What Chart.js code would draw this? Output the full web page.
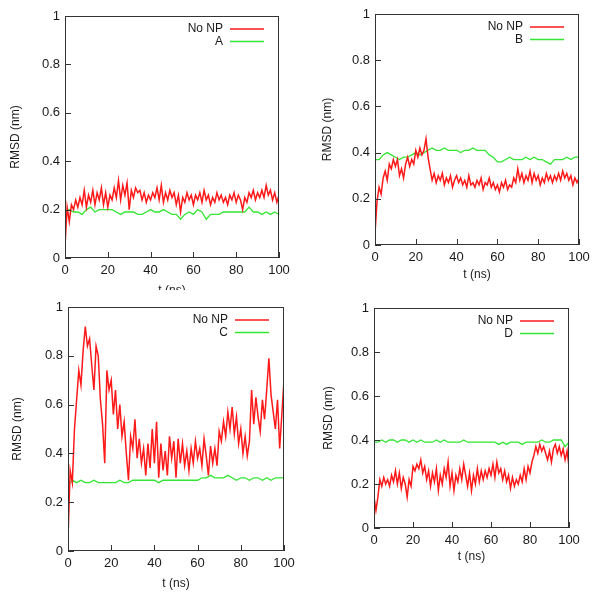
<!DOCTYPE html>
<html>
<head>
<meta charset="utf-8">
<script src="https://cdn.jsdelivr.net/npm/chart.js@4"></script>
<style>
  body { margin: 0; background: #fff; }
  .panel { position: absolute; overflow: hidden; background: #fff; }
  canvas { display: block; }
</style>
</head>
<body>
<div class="panel" style="left:0;top:0;width:300px;height:290px"><canvas id="chartA" width="300" height="300"></canvas></div>
<div class="panel" style="left:310px;top:0;width:291px;height:290px"><canvas id="chartB" width="291" height="290"></canvas></div>
<div class="panel" style="left:3px;top:290px;width:297px;height:310px"><canvas id="chartC" width="297" height="310"></canvas></div>
<div class="panel" style="left:309px;top:290px;width:292px;height:280px"><canvas id="chartD" width="292" height="280"></canvas></div>
<script>
// sampling of the traces (ns between points)
const redStep = 1;
const greenStep = 2;
const xTicks = [0, 20, 40, 60, 80, 100];
const yTicks = [0, 0.2, 0.4, 0.6, 0.8, 1];

// RMSD (nm), No NP trace per panel, one value per ns
const noNpA = [0.05,0.21,0.15,0.22,0.20,0.24,0.21,0.25,0.22,0.28,0.21,0.26,0.23,0.28,0.22,0.27,0.24,0.29,0.22,0.27,
  0.21,0.26,0.24,0.29,0.25,0.32,0.24,0.30,0.26,0.31,0.20,0.28,0.25,0.29,0.27,0.28,0.24,0.27,0.23,0.26,
  0.24,0.27,0.25,0.29,0.24,0.30,0.23,0.27,0.24,0.28,0.25,0.27,0.22,0.26,0.19,0.25,0.23,0.27,0.24,0.26,
  0.22,0.26,0.24,0.27,0.23,0.28,0.24,0.26,0.22,0.25,0.23,0.27,0.24,0.26,0.23,0.25,0.22,0.26,0.24,0.27,
  0.23,0.26,0.24,0.20,0.25,0.23,0.27,0.25,0.28,0.24,0.27,0.25,0.28,0.25,0.30,0.26,0.28,0.24,0.27,0.23,0.26];
const noNpB = [0.05,0.19,0.25,0.22,0.29,0.32,0.28,0.35,0.33,0.37,0.34,0.37,0.30,0.33,0.29,0.35,0.38,0.34,0.37,0.35,
  0.41,0.38,0.42,0.39,0.41,0.46,0.38,0.33,0.28,0.31,0.27,0.30,0.28,0.31,0.26,0.29,0.27,0.30,0.25,0.28,
  0.30,0.27,0.29,0.26,0.28,0.25,0.30,0.26,0.27,0.25,0.28,0.26,0.29,0.24,0.27,0.26,0.29,0.25,0.27,0.24,
  0.26,0.23,0.27,0.25,0.28,0.24,0.26,0.25,0.29,0.27,0.33,0.28,0.31,0.27,0.30,0.28,0.32,0.27,0.31,0.28,
  0.30,0.26,0.29,0.27,0.31,0.28,0.30,0.27,0.30,0.28,0.31,0.28,0.32,0.29,0.31,0.28,0.30,0.26,0.29,0.27,0.29];
const noNpC = [0.05,0.33,0.28,0.50,0.62,0.74,0.68,0.82,0.92,0.84,0.87,0.76,0.66,0.84,0.80,0.62,0.52,0.36,0.74,0.66,
  0.70,0.56,0.66,0.50,0.60,0.47,0.53,0.40,0.29,0.47,0.42,0.54,0.38,0.46,0.36,0.42,0.31,0.44,0.34,0.50,
  0.36,0.53,0.30,0.44,0.33,0.41,0.31,0.47,0.38,0.45,0.30,0.46,0.36,0.44,0.35,0.41,0.33,0.42,0.36,0.45,
  0.38,0.42,0.35,0.46,0.39,0.31,0.43,0.36,0.42,0.35,0.49,0.45,0.53,0.47,0.57,0.50,0.59,0.48,0.55,0.44,
  0.50,0.40,0.47,0.39,0.45,0.66,0.52,0.63,0.55,0.49,0.62,0.54,0.66,0.79,0.64,0.57,0.50,0.62,0.42,0.56,0.70];
const noNpD = [0.14,0.08,0.14,0.22,0.19,0.23,0.20,0.22,0.19,0.24,0.21,0.26,0.20,0.25,0.18,0.23,0.20,0.14,0.22,0.19,
  0.28,0.26,0.29,0.27,0.31,0.25,0.28,0.22,0.26,0.19,0.25,0.21,0.27,0.17,0.24,0.20,0.27,0.23,0.30,0.19,
  0.25,0.17,0.24,0.21,0.27,0.22,0.29,0.24,0.19,0.25,0.17,0.24,0.20,0.27,0.21,0.26,0.22,0.26,0.23,0.27,
  0.24,0.29,0.23,0.30,0.25,0.27,0.22,0.26,0.21,0.24,0.18,0.23,0.19,0.22,0.20,0.24,0.21,0.27,0.22,0.28,
  0.25,0.30,0.33,0.37,0.34,0.38,0.35,0.37,0.34,0.31,0.35,0.30,0.36,0.38,0.34,0.37,0.33,0.36,0.31,0.35,0.28];

// RMSD (nm) with nanoparticle, one value per 2 ns
const withA = [0.19,0.20,0.19,0.19,0.18,0.20,0.21,0.19,0.20,0.20,0.20,0.20,0.19,0.18,0.19,0.19,0.19,0.18,0.18,0.19,
  0.20,0.19,0.19,0.20,0.19,0.18,0.18,0.16,0.18,0.19,0.18,0.20,0.19,0.16,0.18,0.18,0.18,0.19,0.19,0.19,
  0.19,0.19,0.19,0.21,0.19,0.19,0.18,0.19,0.18,0.19,0.18];
const withB = [0.37,0.37,0.39,0.40,0.39,0.38,0.37,0.38,0.38,0.39,0.40,0.39,0.40,0.41,0.42,0.41,0.41,0.42,0.41,0.41,
  0.41,0.40,0.41,0.41,0.42,0.41,0.41,0.41,0.39,0.38,0.36,0.36,0.37,0.38,0.37,0.37,0.37,0.38,0.37,0.38,
  0.37,0.37,0.36,0.35,0.37,0.37,0.37,0.38,0.37,0.38,0.38];
const withC = [0.27,0.29,0.28,0.29,0.28,0.28,0.29,0.28,0.28,0.28,0.28,0.28,0.29,0.28,0.28,0.29,0.29,0.29,0.29,0.29,
  0.29,0.28,0.29,0.29,0.29,0.29,0.29,0.29,0.29,0.29,0.29,0.30,0.30,0.31,0.30,0.30,0.30,0.31,0.30,0.29,
  0.30,0.30,0.29,0.30,0.30,0.29,0.30,0.29,0.30,0.30,0.30];
const withD = [0.39,0.39,0.40,0.39,0.40,0.40,0.39,0.40,0.40,0.39,0.40,0.39,0.40,0.39,0.39,0.39,0.40,0.39,0.40,0.39,
  0.39,0.39,0.39,0.40,0.39,0.39,0.39,0.39,0.39,0.39,0.39,0.39,0.38,0.39,0.38,0.39,0.39,0.39,0.38,0.39,
  0.39,0.39,0.39,0.40,0.39,0.39,0.40,0.40,0.40,0.37,0.39];

const FONT = "'Liberation Sans', Arial, sans-serif";
const TEXT = "#1a1a1a";
const RED = "#ff1a1a";
const GREEN = "#33e633";

function toPoints(values, step) {
  return values.map((v, i) => ({ x: i * step, y: v }));
}

// gnuplot-like frame, inward ticks and in-plot key
const framePlugin = {
  id: "frame",
  afterDraw(chart) {
    const { ctx, chartArea: a, scales } = chart;
    ctx.save();
    ctx.strokeStyle = "#333";
    ctx.lineWidth = 1;
    ctx.strokeRect(a.left + 0.5, a.top + 0.5, a.right - a.left - 1, a.bottom - a.top - 1);
    ctx.beginPath();
    yTicks.forEach((t) => {
      const y = Math.round(scales.y.getPixelForValue(t)) + 0.5;
      ctx.moveTo(a.left, y);
      ctx.lineTo(a.left + 6, y);
    });
    xTicks.forEach((t) => {
      const x = Math.round(scales.x.getPixelForValue(t)) + 0.5;
      ctx.moveTo(x, a.bottom);
      ctx.lineTo(x, a.bottom - 6);
    });
    ctx.stroke();

    // key
    ctx.font = "12px " + FONT;
    ctx.textAlign = "right";
    ctx.textBaseline = "middle";
    const lineEnd = a.right - 15;
    const lineStart = lineEnd - 34;
    chart.data.datasets.forEach((ds, i) => {
      const y = a.top + 13 + i * 12.5;
      ctx.fillStyle = TEXT;
      ctx.fillText(ds.label, lineStart - 7, y);
      ctx.strokeStyle = ds.borderColor;
      ctx.lineWidth = 1.3;
      ctx.beginPath();
      ctx.moveTo(lineStart, y);
      ctx.lineTo(lineEnd, y);
      ctx.stroke();
    });
    ctx.restore();
  },
};

function makePanel(id, name, redValues, greenValues, pad) {
  new Chart(document.getElementById(id), {
    type: "line",
    data: {
      datasets: [
        { label: "No NP", data: toPoints(redValues, redStep), borderColor: RED, borderWidth: 1.5 },
        { label: name, data: toPoints(greenValues, greenStep), borderColor: GREEN, borderWidth: 1.3 },
      ],
    },
    options: {
      responsive: false,
      animation: false,
      layout: { padding: { top: pad.top, right: pad.right, left: 0, bottom: 0 } },
      elements: { point: { radius: 0 }, line: { tension: 0 } },
      plugins: { legend: { display: false }, tooltip: { enabled: false } },
      scales: {
        x: {
          type: "linear",
          min: 0,
          max: 100,
          afterBuildTicks: (s) => { s.ticks = xTicks.map((v) => ({ value: v })); },
          afterFit: (s) => { s.height = pad.xh; },
          ticks: { color: TEXT, font: { family: FONT, size: 13 }, padding: 5, maxRotation: 0 },
          grid: { display: false, drawTicks: false },
          border: { display: false },
          title: { display: true, text: "t (ns)", color: TEXT, font: { family: FONT, size: 12 }, padding: { top: 0, bottom: pad.xt } },
        },
        y: {
          min: 0,
          max: 1,
          afterBuildTicks: (s) => { s.ticks = yTicks.map((v) => ({ value: v })); },
          afterFit: (s) => { s.width = 65; },
          ticks: {
            color: TEXT,
            font: { family: FONT, size: 13 },
            padding: 5,
            callback: (v) => String(Math.round(v * 10) / 10),
          },
          grid: { display: false, drawTicks: false },
          border: { display: false },
          title: { display: true, text: "RMSD (nm)", color: TEXT, font: { family: FONT, size: 12 }, padding: { top: pad.yt, bottom: 0 } },
        },
      },
    },
    plugins: [framePlugin],
  });
}

makePanel("chartA", "A", noNpA, withA, { top: 16, right: 21, xh: 42, xt: 2, yt: 8 });
makePanel("chartB", "B", noNpB, withB, { top: 14, right: 22, xh: 45, xt: 8, yt: 10 });
makePanel("chartC", "C", noNpC, withC, { top: 17, right: 16, xh: 49, xt: 9, yt: 7 });
makePanel("chartD", "D", noNpD, withD, { top: 18, right: 32, xh: 42, xt: 6, yt: 12 });
</script>
</body>
</html>
